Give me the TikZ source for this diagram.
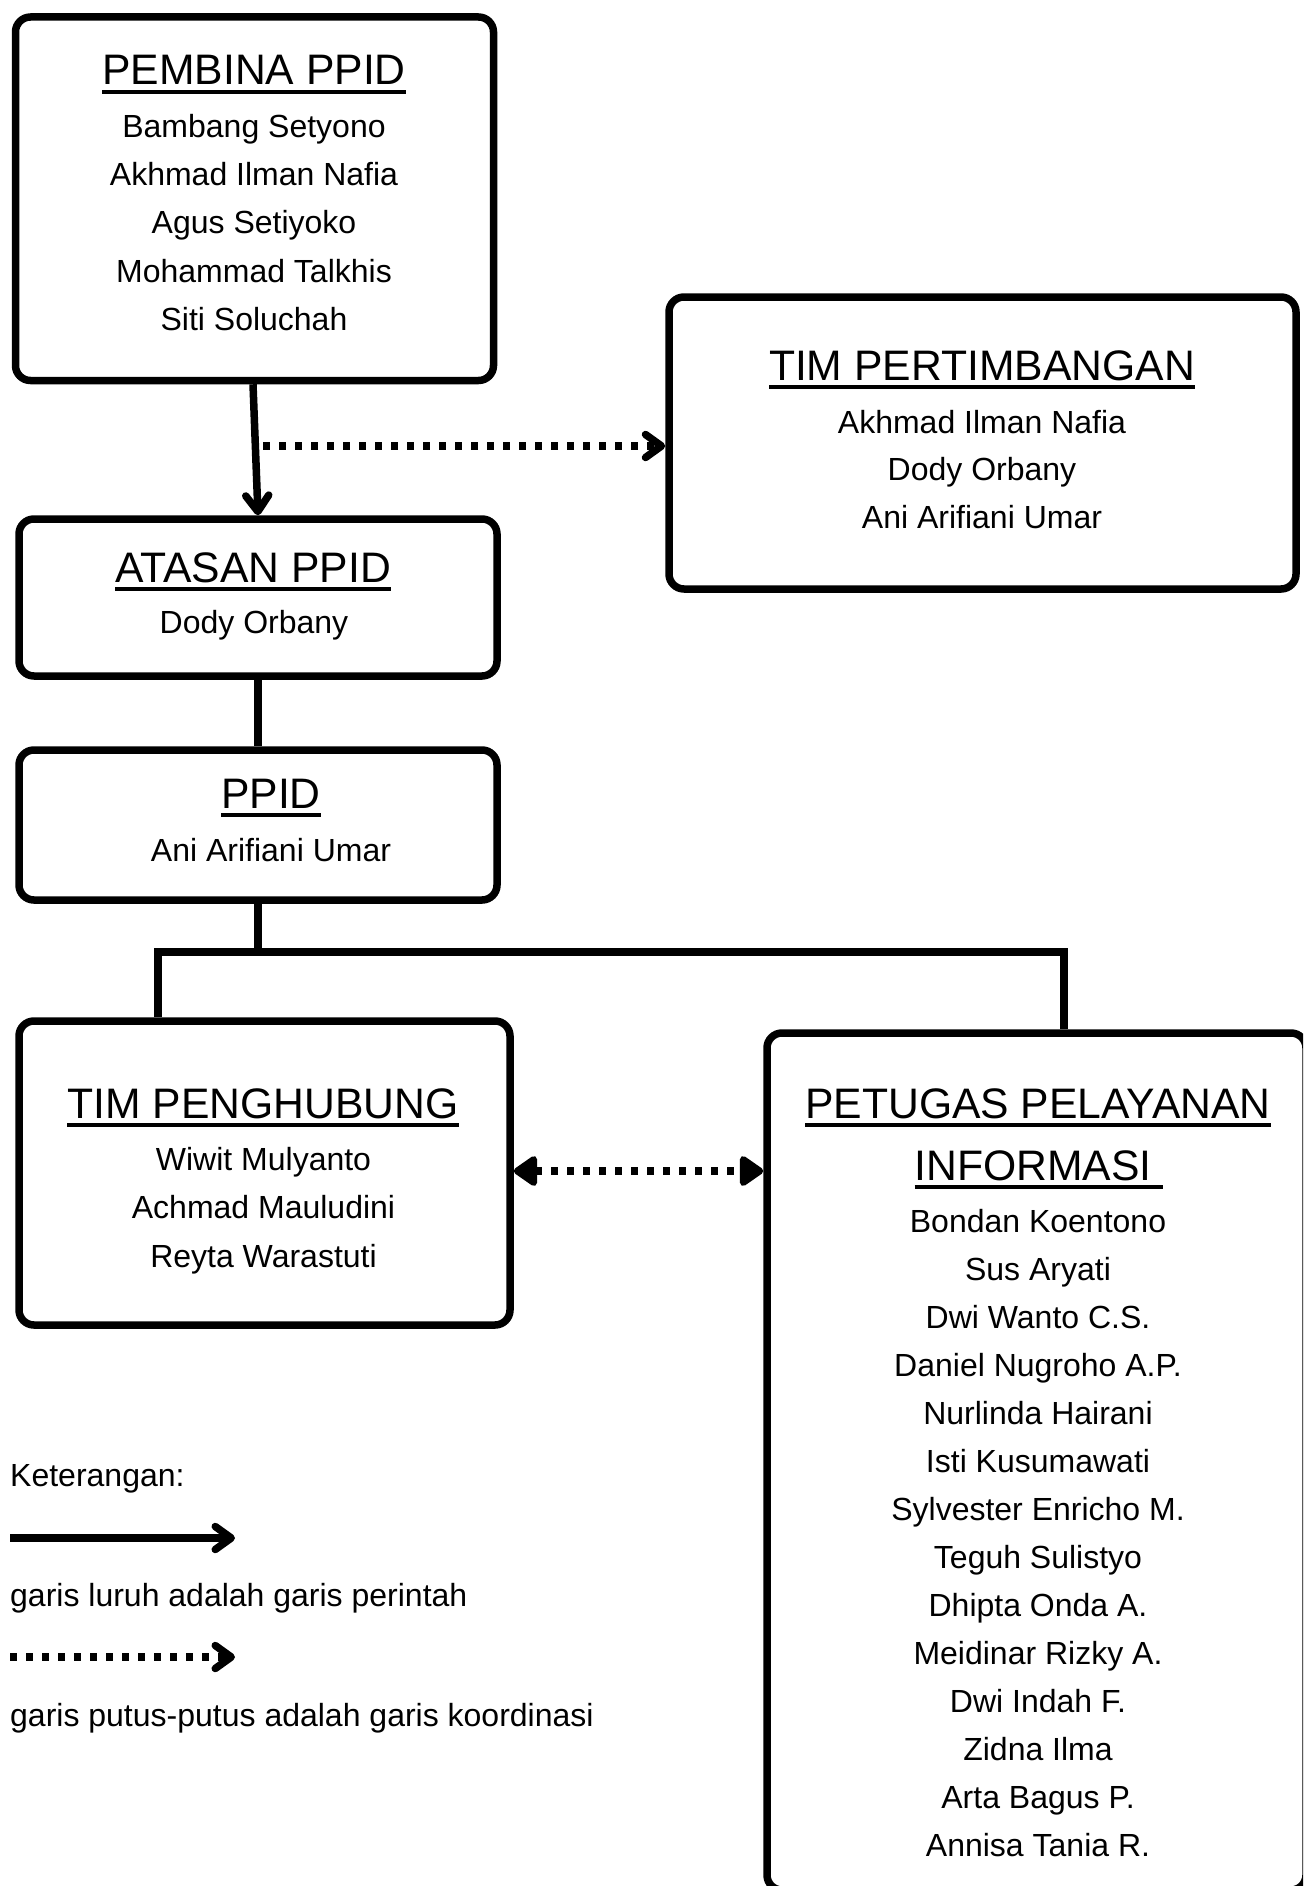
\documentclass[tikz,border=0pt]{standalone}
\usepackage{fontspec}
\setmainfont{Liberation Sans}
\usetikzlibrary{arrows.meta}
\newcommand{\ulx}[1]{\setbox0=\hbox{#1}\rlap{\rule[-8.75pt]{\wd0}{3.5pt}}\box0}
\tikzset{
  box/.style={draw=black, line width=7.5pt, rounded corners=15pt, inner sep=0pt, fill=white},
  ttl/.style={anchor=base, inner sep=0pt, font=\fontsize{42.67pt}{50pt}\selectfont},
  nm/.style={anchor=base, inner sep=0pt, font=\fontsize{32pt}{38pt}\selectfont},
  lgd/.style={anchor=base west, inner sep=0pt, font=\fontsize{32pt}{38pt}\selectfont},
  ln/.style={line width=7.5pt},
  cmd/.style={ln, -{Straight Barb[length=16pt,width=23pt,round]}},
  crd/.style={ln, dash pattern=on 7pt off 9pt, -{Straight Barb[length=16pt,width=23pt,round]}},
  crdtwo/.style={ln, dash pattern=on 7pt off 9pt, {Triangle[length=26pt,width=34pt,round]}-{Triangle[length=26pt,width=34pt,round]}}
}
\begin{document}
\begin{tikzpicture}[x=1pt,y=-1pt]
\useasboundingbox (0,0) rectangle (1303,1886);
\fill[white] (0,0) rectangle (1303,1886);
\clip (0,0) rectangle (1303,1886);

% boxes
\node[box, minimum width=478pt, minimum height=363.5pt] (pemb) at (254.5,198.75) {};
\node[box, minimum width=478pt, minimum height=157pt] (atas) at (258,597.5) {};
\node[box, minimum width=478pt, minimum height=150pt] (ppid) at (258,825) {};
\node[box, minimum width=627pt, minimum height=292pt] (timp) at (982.5,443) {};
\node[box, minimum width=491pt, minimum height=304pt] (peng) at (264.5,1173) {};
\node[box, minimum width=539pt, minimum height=857pt] (pet) at (1036.5,1461.5) {};

% texts
\node[ttl] (pemb-t) at (254,85) {\ulx{PEMBINA PPID}};
\foreach \t [count=\i from 0] in {Bambang Setyono, Akhmad Ilman Nafia, Agus Setiyoko, Mohammad Talkhis, Siti Soluchah}
  \node[nm] (pemb-n\i) at (254,138+48*\i) {\t};

\node[ttl] (atas-t) at (253,582) {\ulx{ATASAN PPID}};
\node[nm] (atas-n) at (254,633) {Dody Orbany};

\node[ttl] (ppid-t) at (271,808) {\ulx{PPID}};
\node[nm] (ppid-n) at (271,861) {Ani Arifiani Umar};

\node[ttl] (timp-t) at (982,380) {\ulx{TIM PERTIMBANGAN}};
\foreach \t [count=\i from 0] in {Akhmad Ilman Nafia, Dody Orbany, Ani Arifiani Umar}
  \node[nm] (timp-n\i) at (982,433+47.5*\i) {\t};

\node[ttl] (peng-t) at (263,1118) {\ulx{TIM PENGHUBUNG}};
\foreach \t [count=\i from 0] in {Wiwit Mulyanto, Achmad Mauludini, Reyta Warastuti}
  \node[nm] (peng-n\i) at (263.5,1170+48.5*\i) {\t};

\node[ttl] (pet-t1) at (1038,1118) {\ulx{PETUGAS PELAYANAN}};
\node[ttl] (pet-t2) at (1039,1180) {\ulx{INFORMASI\ }};
\foreach \t [count=\i from 0] in {Bondan Koentono, Sus Aryati, Dwi Wanto C.S., Daniel Nugroho A.P., Nurlinda Hairani, Isti Kusumawati, Sylvester Enricho M., Teguh Sulistyo, Dhipta Onda A., Meidinar Rizky A., Dwi Indah F., Zidna Ilma, Arta Bagus P., Annisa Tania R.}
  \node[nm] (pet-n\i) at (1038,1232+48*\i) {\t};

% connectors
\draw[cmd] ([xshift=-1.5pt]pemb.south) -- (atas.north);
\coordinate (cs) at (263,446);
\draw[crd] (cs) -- (cs -| timp.west);
\draw[ln] (atas.south) -- (ppid.north);
\coordinate (jn) at (258,952);
\draw[ln] (ppid.south) -- ([yshift=-3.5pt]jn);
\coordinate (pl) at ([xshift=-106.5pt]peng.north);
\coordinate (pt) at ([xshift=27.5pt]pet.north);
\draw[ln] (pl) |- (pt |- jn) -- (pt);
\coordinate (dy) at (0,1171);
\draw[crdtwo] (peng.east |- dy) -- (pet.west |- dy);

% legend
\node[lgd] (k0) at (10,1486) {Keterangan:};
\coordinate (l1a) at (10,1538);
\coordinate (l1b) at (235,1538);
\draw[cmd] (l1a) -- (l1b);
\node[lgd] (k1) at (10,1606) {garis luruh adalah garis perintah};
\coordinate (l2a) at (10,1657);
\coordinate (l2b) at (235,1657);
\draw[crd] (l2a) -- (l2b);
\node[lgd] (k2) at (10,1726) {garis putus-putus adalah garis koordinasi};
\end{tikzpicture}
\end{document}
